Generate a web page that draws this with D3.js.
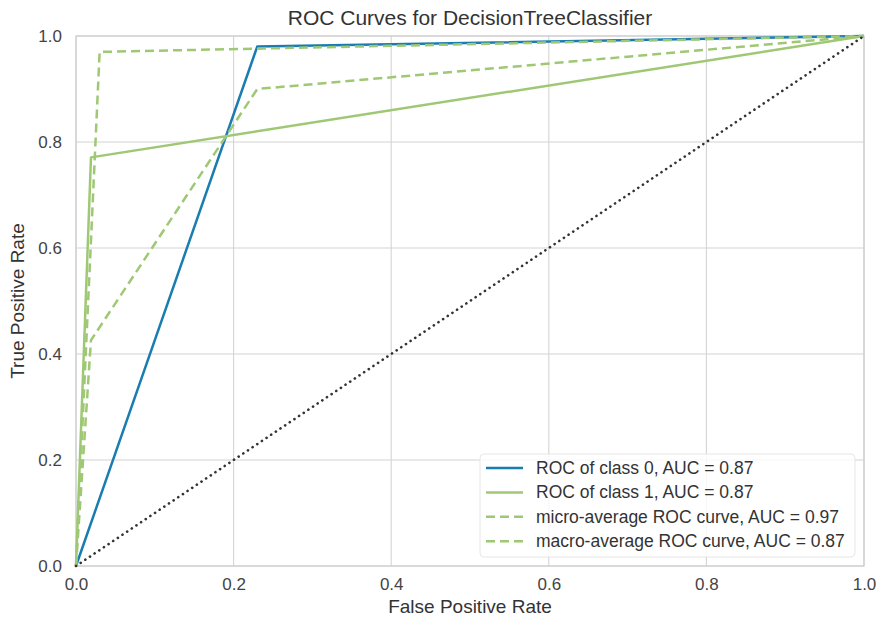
<!DOCTYPE html>
<html>
<head>
<meta charset="utf-8">
<script src="https://cdn.jsdelivr.net/npm/d3@7"></script>
<style>
  body { margin: 0; background: #fff; }
  svg { font-family: "Liberation Sans", Arial, sans-serif; }
</style>
</head>
<body>
<svg id="chart" width="880" height="620"></svg>
<script>
const title = "ROC Curves for DecisionTreeClassifier";
const xLabel = "False Positive Rate";
const yLabel = "True Positive Rate";
const tickValues = [0, 0.2, 0.4, 0.6, 0.8, 1.0];

const class0Fpr = [0, 0.23, 1];
const class0Tpr = [0, 0.98, 1];
const class1Fpr = [0, 0.019, 1];
const class1Tpr = [0, 0.771, 1];
const microFpr = [0, 0.03, 1];
const microTpr = [0, 0.97, 1];
const macroFpr = [0, 0.019, 0.23, 1];
const macroTpr = [0, 0.426, 0.90, 1];
const diagFpr = [0, 1];
const diagTpr = [0, 1];

const seriesNames = [
  "ROC of class 0, AUC = 0.87",
  "ROC of class 1, AUC = 0.87",
  "micro-average ROC curve, AUC = 0.97",
  "macro-average ROC curve, AUC = 0.87"
];

const blue = "#1a7db1";
const green = "#9fc874";

const series = [
  { name: seriesNames[0], fpr: class0Fpr, tpr: class0Tpr, color: blue, dash: null },
  { name: seriesNames[1], fpr: class1Fpr, tpr: class1Tpr, color: green, dash: null },
  { name: seriesNames[2], fpr: microFpr, tpr: microTpr, color: green, dash: "9,5" },
  { name: seriesNames[3], fpr: macroFpr, tpr: macroTpr, color: green, dash: "9,5" }
];

const svg = d3.select("#chart");
const margin = { left: 76, right: 16, top: 36, bottom: 54 };
const W = 880, H = 620;
const x = d3.scaleLinear().domain([0, 1]).range([margin.left, W - margin.right]);
const y = d3.scaleLinear().domain([0, 1]).range([H - margin.bottom, margin.top]);

// grid
const grid = svg.append("g");
grid.selectAll("line.vg").data(tickValues).join("line")
  .attr("x1", d => x(d)).attr("x2", d => x(d))
  .attr("y1", y(0)).attr("y2", y(1))
  .attr("stroke", "#d4d4d4").attr("stroke-width", 1.1);
grid.selectAll("line.hg").data(tickValues).join("line")
  .attr("y1", d => y(d)).attr("y2", d => y(d))
  .attr("x1", x(0)).attr("x2", x(1))
  .attr("stroke", "#d4d4d4").attr("stroke-width", 1.1);

// border
svg.append("rect")
  .attr("x", x(0)).attr("y", y(1))
  .attr("width", x(1) - x(0)).attr("height", y(0) - y(1))
  .attr("fill", "none").attr("stroke", "#cfcfcf").attr("stroke-width", 1.2);

// axes
const fmt = d3.format(".1f");
const xAxis = svg.append("g").attr("transform", `translate(0,${y(0)})`)
  .call(d3.axisBottom(x).tickValues(tickValues).tickFormat(fmt).tickSize(0).tickPadding(12));
const yAxis = svg.append("g").attr("transform", `translate(${x(0)},0)`)
  .call(d3.axisLeft(y).tickValues(tickValues).tickFormat(fmt).tickSize(0).tickPadding(14));
[xAxis, yAxis].forEach(a => {
  a.select(".domain").remove();
  a.selectAll("text").attr("font-size", 17).attr("fill", "#444")
    .attr("font-family", "'Liberation Sans', Arial, sans-serif");
});

// lines
const line = d3.line().x(d => x(d[0])).y(d => y(d[1]));
const plot = svg.append("g");
series.forEach(s => {
  plot.append("path")
    .datum(s.fpr.map((f, i) => [f, s.tpr[i]]))
    .attr("d", line)
    .attr("fill", "none")
    .attr("stroke", s.color)
    .attr("stroke-width", 2.5)
    .attr("stroke-dasharray", s.dash)
    .attr("stroke-linejoin", "round");
});
plot.append("path")
  .datum(diagFpr.map((f, i) => [f, diagTpr[i]]))
  .attr("d", line)
  .attr("fill", "none")
  .attr("stroke", "#333")
  .attr("stroke-width", 2.6)
  .attr("stroke-dasharray", "0.1,5.5")
  .attr("stroke-linecap", "round");

// title & labels
svg.append("text").attr("x", (x(0) + x(1)) / 2).attr("y", 25)
  .attr("text-anchor", "middle").attr("font-size", 21).attr("fill", "#333").text(title);
svg.append("text").attr("x", (x(0) + x(1)) / 2).attr("y", 613)
  .attr("text-anchor", "middle").attr("font-size", 19).attr("fill", "#333").text(xLabel);
svg.append("text")
  .attr("transform", `translate(24,${(y(0) + y(1)) / 2}) rotate(-90)`)
  .attr("text-anchor", "middle").attr("font-size", 19).attr("fill", "#333").text(yLabel);

// legend
const lg = svg.append("g").attr("transform", "translate(480,454)");
lg.append("rect").attr("width", 375).attr("height", 103).attr("rx", 4)
  .attr("fill", "rgba(255,255,255,0.8)").attr("stroke", "#e6e6e6").attr("stroke-width", 1);
series.forEach((s, i) => {
  const yy = 14 + i * 24.4;
  lg.append("line").attr("x1", 6).attr("x2", 43).attr("y1", yy).attr("y2", yy)
    .attr("stroke", s.color).attr("stroke-width", 2.5)
    .attr("stroke-dasharray", s.dash);
  lg.append("text").attr("x", 56).attr("y", yy + 6)
    .attr("font-size", 17.5).attr("fill", "#333").text(s.name);
});
</script>
</body>
</html>
